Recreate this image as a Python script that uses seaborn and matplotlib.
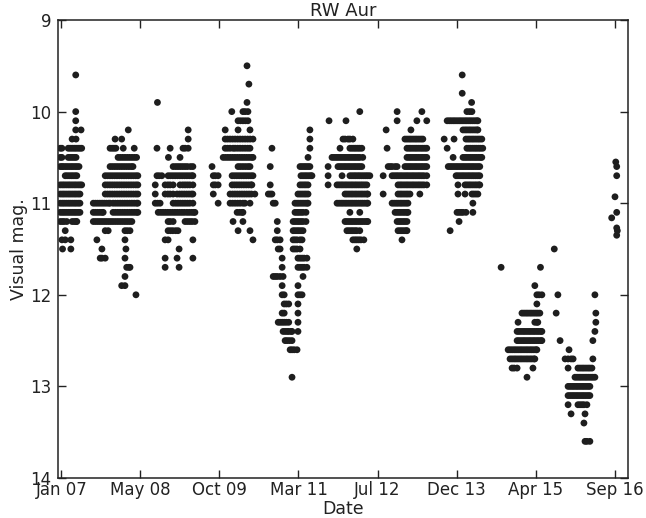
import numpy as np
import pandas as pd
import matplotlib
matplotlib.use("Agg")
import matplotlib.pyplot as plt
import matplotlib.dates as mdates
import seaborn as sns

# ---- Data: each season is a list of (visual magnitude, [days since 2007-01-01]) ----
season_2007 = [
    (9.6, [102]), (10.0, [102]), (10.1, [102]), (10.2, [102, 136]), (10.3, [79, 104]),
    (10.4, [3, 14, 54, 66, 79, 92, 104, 117, 129, 140]),
    (10.5, [3, 14, 54, 66, 79, 92, 104]),
    (10.6, [3, 14, 22, 35, 47, 60, 73, 85, 98, 110, 123]),
    (10.7, [35, 47, 60, 73, 85, 98, 109]),
    (10.8, [3, 16, 28, 41, 54, 66, 79, 92, 104, 117, 129, 140]),
    (10.9, [3, 16, 28, 41, 54, 66, 79, 92, 104, 117, 129]),
    (11.0, [3, 16, 28, 41, 54, 66, 79, 92, 104, 117, 129]),
    (11.1, [3, 16, 28, 41, 54, 66, 79, 92, 104, 117, 129]),
    (11.2, [3, 16, 28, 45, 79, 92, 104, 109]),
    (11.3, [35]), (11.4, [14, 35, 71]), (11.5, [18, 71]),
]
season_2008 = [
    (10.2, [437]), (10.3, [353, 395]),
    (10.4, [321, 334, 346, 358, 405, 475]),
    (10.5, [372, 386, 401, 416, 431, 446, 461, 476, 490]),
    (10.6, [321, 336, 351, 366, 381, 396, 411, 426, 441, 456, 467]),
    (10.7, [290, 305, 320, 335, 350, 365, 380, 395, 410, 425, 440, 455, 470, 485, 498]),
    (10.8, [290, 305, 320, 335, 350, 365, 380, 395, 410, 425, 440, 455, 470, 485, 498]),
    (10.9, [290, 305, 320, 335, 350, 365, 380, 395, 410, 425, 440, 455, 470, 485, 498]),
    (11.0, [214, 228, 242, 256, 270, 284, 298, 312, 321, 340, 355, 370, 385, 400, 415, 430, 445, 460, 475, 490, 498]),
    (11.1, [214, 228, 242, 256, 270, 277, 340, 355, 370, 385, 400, 415, 430, 445, 460, 475, 490, 498]),
    (11.2, [214, 228, 242, 256, 270, 284, 298, 312, 326, 340, 355, 370, 385, 400, 415, 430, 445, 460]),
    (11.3, [290, 309, 416, 431, 448]), (11.4, [237, 416]), (11.5, [269, 422]),
    (11.6, [258, 269, 290, 416]), (11.7, [427, 441, 448]), (11.8, [416]),
    (11.9, [395, 416]), (12.0, [486]),
]
season_2009 = [
    (9.9, [623]), (10.2, [819]), (10.3, [819]),
    (10.4, [620, 704, 786, 799, 819]), (10.5, [693, 767]),
    (10.6, [723, 739, 754, 769, 784, 799, 814, 834, 849]),
    (10.7, [620, 634, 651, 691, 706, 721, 736, 751, 766, 781, 796, 811, 826, 841, 849]),
    (10.8, [609, 672, 689, 704, 723, 767, 784, 799, 814, 829, 849]),
    (10.9, [609, 672, 689, 704, 723, 748, 764, 779, 794, 809, 824, 839, 849]),
    (11.0, [609, 624, 640, 723, 739, 754, 769, 784, 799, 814, 829, 849]),
    (11.1, [628, 644, 659, 674, 689, 704, 719, 734, 749, 764, 779, 794, 811, 826, 841, 854, 862]),
    (11.2, [691, 704, 723, 799, 814, 829, 844, 862]),
    (11.3, [691, 706, 721, 739, 754]), (11.4, [672, 691, 849]), (11.5, [761]),
    (11.6, [672, 748, 849]), (11.7, [672, 761]),
]
season_2010 = [
    (9.5, [1194]), (9.7, [1206]), (9.9, [1194]),
    (10.0, [1097, 1168, 1182, 1200]),
    (10.1, [1137, 1152, 1168, 1184, 1200]),
    (10.2, [1055, 1137, 1213]),
    (10.3, [1055, 1070, 1086, 1102, 1118, 1134, 1150, 1166, 1182, 1198, 1214, 1232]),
    (10.4, [1055, 1070, 1086, 1105, 1118, 1134, 1150, 1166, 1182, 1198, 1213]),
    (10.5, [1042, 1057, 1072, 1087, 1102, 1117, 1132, 1147, 1162, 1177, 1192, 1207, 1222, 1232]),
    (10.6, [971, 1137, 1152, 1168, 1184, 1200, 1213]),
    (10.7, [979, 992, 1010, 1099, 1114, 1129, 1144, 1159, 1174, 1189, 1204, 1219, 1232]),
    (10.8, [979, 992, 1010, 1099, 1114, 1129, 1144, 1159, 1174, 1189, 1204, 1219, 1225]),
    (10.9, [979, 1086, 1102, 1117, 1132, 1147, 1162, 1177, 1192, 1207, 1222, 1244]),
    (11.0, [1010, 1086, 1102, 1118, 1134, 1150, 1168, 1181, 1213]),
    (11.1, [1131, 1147, 1162, 1168]), (11.2, [1105, 1168]), (11.3, [1137, 1213]),
    (11.4, [1232]),
]
season_2011 = [
    (10.2, [1595]), (10.3, [1595]), (10.4, [1353, 1595]), (10.5, [1583]),
    (10.6, [1342, 1532, 1545, 1558, 1570, 1583, 1595]),
    (10.7, [1538, 1551, 1564, 1576, 1589, 1601, 1608]),
    (10.8, [1342, 1532, 1545, 1558, 1570, 1583]),
    (10.9, [1330, 1342, 1353, 1519, 1532, 1545, 1558, 1570, 1583]),
    (11.0, [1361, 1374, 1500, 1513, 1525, 1538, 1551, 1564, 1576, 1583]),
    (11.1, [1500, 1513, 1525, 1538, 1551, 1570]),
    (11.2, [1387, 1488, 1500, 1513, 1525, 1538, 1551, 1570]),
    (11.3, [1387, 1488, 1500, 1513, 1525, 1538, 1551]),
    (11.4, [1374, 1387, 1405, 1488, 1500, 1513, 1532, 1545]),
    (11.5, [1393, 1405, 1488, 1500, 1513, 1532]),
    (11.6, [1418, 1519, 1532, 1545, 1558, 1576]),
    (11.7, [1418, 1519, 1532, 1545, 1558, 1576]),
    (11.8, [1361, 1374, 1387, 1405, 1424, 1551]),
    (11.9, [1418, 1519]),
    (12.0, [1418, 1431, 1519, 1532, 1545]),
    (12.1, [1431, 1445, 1460, 1519]),
    (12.2, [1418, 1431, 1519]),
    (12.3, [1393, 1405, 1418, 1431, 1445, 1460, 1519]),
    (12.4, [1424, 1437, 1450, 1460, 1475, 1481, 1519]),
    (12.5, [1437, 1450, 1465, 1481]),
    (12.6, [1469, 1481, 1495, 1513]),
    (12.9, [1481]),
]
season_2012 = [
    (10.0, [1913]), (10.1, [1717, 1825]),
    (10.3, [1806, 1819, 1838, 1850, 1869]),
    (10.4, [1787, 1850, 1863, 1876, 1888, 1901, 1913, 1926]),
    (10.5, [1736, 1749, 1762, 1774, 1787, 1800, 1813, 1825, 1838, 1850, 1863, 1876, 1888, 1901, 1913, 1932]),
    (10.6, [1711, 1774, 1787, 1800, 1813, 1825, 1838, 1850, 1863, 1876, 1888, 1901, 1913, 1926]),
    (10.7, [1711, 1800, 1850, 1863, 1876, 1888, 1901, 1913, 1926, 1939, 1952, 1964, 1977]),
    (10.8, [1711, 1768, 1781, 1794, 1806, 1819, 1831, 1844, 1857, 1869, 1882, 1894, 1907, 1920, 1932, 1945, 1958]),
    (10.9, [1819, 1831, 1844, 1857, 1869, 1882, 1894, 1907, 1920, 1932, 1945, 1958, 1964]),
    (11.0, [1768, 1781, 1794, 1806, 1819, 1831, 1844, 1857, 1869, 1882, 1894, 1907, 1920, 1932, 1945, 1958, 1964]),
    (11.1, [1850, 1913]),
    (11.2, [1819, 1831, 1844, 1857, 1869, 1882, 1894, 1907, 1920, 1932, 1945, 1958, 1964]),
    (11.3, [1831, 1844, 1857, 1869, 1882, 1894, 1913]),
    (11.4, [1869, 1882, 1894, 1907, 1920, 1939]),
    (11.5, [1894]),
]
season_2013 = [
    (10.0, [2151, 2309]), (10.1, [2151, 2277, 2340]), (10.2, [2081, 2239]),
    (10.3, [2201, 2214, 2227, 2239, 2252, 2265, 2277, 2290, 2303, 2315]),
    (10.4, [2087, 2214, 2227, 2239, 2252, 2265, 2277, 2290, 2303, 2315, 2328, 2340]),
    (10.5, [2214, 2227, 2239, 2252, 2265, 2277, 2290, 2303, 2315, 2328, 2340]),
    (10.6, [2094, 2107, 2119, 2138, 2151, 2201, 2214, 2227, 2239, 2252, 2265, 2277, 2290, 2303, 2315, 2328, 2340]),
    (10.7, [2062, 2119, 2132, 2145, 2157, 2170, 2182, 2195, 2208, 2220, 2233, 2246, 2258, 2271, 2284, 2296, 2309, 2322, 2340]),
    (10.8, [2157, 2170, 2182, 2195, 2208, 2220, 2233, 2246, 2258, 2271, 2284, 2296, 2309, 2322, 2340]),
    (10.9, [2062, 2157, 2170, 2182, 2195, 2208, 2220, 2233, 2296]),
    (11.0, [2119, 2132, 2145, 2157, 2170, 2182, 2195, 2208, 2220]),
    (11.1, [2138, 2151, 2164, 2176, 2189, 2201, 2214, 2220]),
    (11.2, [2151, 2164, 2176, 2189, 2201, 2214]),
    (11.3, [2157, 2170, 2182, 2195, 2208, 2214]),
    (11.4, [2182]),
]
season_2014 = [
    (9.6, [2566]), (9.8, [2566]), (9.9, [2626]), (10.0, [2596, 2613, 2628]),
    (10.1, [2470, 2483, 2495, 2508, 2520, 2533, 2546, 2558, 2571, 2584, 2596, 2609, 2621, 2634, 2647, 2659, 2666]),
    (10.2, [2571, 2584, 2596, 2609, 2621, 2634, 2647, 2659, 2666]),
    (10.3, [2451, 2514, 2590, 2603, 2615, 2628, 2640, 2653, 2666, 2678, 2691]),
    (10.4, [2470, 2596, 2609, 2621, 2634, 2647, 2659, 2672, 2684, 2697]),
    (10.5, [2508, 2571, 2584, 2596, 2609, 2621, 2634, 2647, 2659, 2672, 2684, 2691]),
    (10.6, [2477, 2489, 2501, 2514, 2527, 2539, 2552, 2565, 2577, 2590, 2603, 2615, 2628, 2640, 2653, 2666, 2678]),
    (10.7, [2527, 2539, 2552, 2565, 2577, 2590, 2603, 2615, 2628, 2640, 2653, 2666, 2678]),
    (10.8, [2539, 2584, 2596, 2609, 2621, 2634, 2647, 2659, 2672, 2678]),
    (10.9, [2539, 2584, 2628, 2640, 2653, 2666]),
    (11.0, [2634]),
    (11.1, [2533, 2546, 2559, 2571, 2590, 2634]),
    (11.2, [2546]), (11.3, [2489]),
]
season_2015 = [
    (11.7, [2814, 3065]), (11.9, [3029]), (12.0, [3042, 3056, 3074]), (12.1, [3042]),
    (12.2, [2947, 2960, 2973, 2985, 2998, 3010, 3023, 3036, 3048, 3061]),
    (12.3, [2922, 3029, 3042, 3048]),
    (12.4, [2916, 2928, 2941, 2954, 2966, 2979, 2992, 3004, 3017, 3029, 3042, 3054, 3067, 3074]),
    (12.5, [2916, 2928, 2941, 2954, 2966, 2979, 2992, 3004, 3017, 3029, 3042, 3054, 3067, 3074]),
    (12.6, [2859, 2871, 2884, 2897, 2909, 2922, 2935, 2947, 2960, 2973, 2985, 2998, 3010, 3023, 3036, 3042]),
    (12.7, [2871, 2884, 2897, 2909, 2922, 2935, 2947, 2960, 2973, 2985, 2998, 3010, 3023, 3029]),
    (12.8, [2884, 2897, 2916, 3017]),
    (12.9, [2979]),
]
season_2016 = [
    (11.5, [3153]), (12.0, [3176, 3412]), (12.2, [3165, 3418]), (12.3, [3418]),
    (12.4, [3412]), (12.5, [3190, 3399]), (12.6, [3247]),
    (12.7, [3222, 3241, 3260, 3273, 3399]),
    (12.8, [3241, 3304, 3317, 3330, 3342, 3355, 3368, 3380, 3393]),
    (12.9, [3285, 3298, 3311, 3323, 3336, 3349, 3361, 3374, 3387, 3399, 3412]),
    (13.0, [3241, 3254, 3267, 3279, 3292, 3304, 3317, 3330, 3342, 3355, 3368, 3380]),
    (13.1, [3241, 3254, 3267, 3279, 3292, 3304, 3317, 3330, 3342, 3355, 3368, 3380]),
    (13.2, [3241, 3304, 3317, 3330, 3342, 3361]),
    (13.3, [3260, 3349]), (13.4, [3342]),
    (13.6, [3349, 3361, 3380]),
]
late_2016_days = [3545, 3551, 3551, 3540, 3551, 3519, 3551, 3555, 3551]
late_2016_mags = [10.55, 10.6, 10.7, 10.93, 11.1, 11.16, 11.27, 11.3, 11.35]

y_ticks = [9, 10, 11, 12, 13, 14]
epoch = "2007-01-01"
first_tick = "2007-01-11"
tick_step_days = 504

# ---- Build table ----
rows = []
for season in [season_2007, season_2008, season_2009, season_2010, season_2011,
               season_2012, season_2013, season_2014, season_2015, season_2016]:
    for mag, days in season:
        for d in days:
            rows.append((d, mag))
for d, m in zip(late_2016_days, late_2016_mags):
    rows.append((d, m))
df = pd.DataFrame(rows, columns=["day", "mag"])
df["date"] = pd.Timestamp(epoch) + pd.to_timedelta(df["day"], unit="D")

# ---- Plot ----
sns.set_style("ticks")
plt.rcParams["font.family"] = ["DejaVu Sans"]

fig = plt.figure(figsize=(6.46, 5.18), dpi=100)
ax = fig.add_axes([58 / 646, 1 - 478 / 518, 570 / 646, 458 / 518])

sns.scatterplot(data=df, x="date", y="mag", color="#1e1e1e", s=24,
                linewidth=0, edgecolor="none", ax=ax, legend=False)

ax.set_ylim(14, 9)
ax.set_yticks(y_ticks)
ax.set_yticklabels([str(v) for v in y_ticks])
ax.set_xlim(pd.Timestamp(epoch) + pd.Timedelta(days=-11),
            pd.Timestamp(epoch) + pd.Timedelta(days=3623))
ticks = pd.date_range(first_tick, periods=8, freq=f"{tick_step_days}D")
ax.set_xticks(ticks)
ax.xaxis.set_major_formatter(mdates.DateFormatter("%b %y"))
ax.minorticks_off()

ax.tick_params(direction="in", top=True, right=True, length=6, width=1,
               labelsize=12, colors="#222222")
ax.tick_params(axis="x", pad=2)
ax.tick_params(axis="y", pad=5)
for sp in ax.spines.values():
    sp.set_visible(True)
    sp.set_color("#222222")
    sp.set_linewidth(1.1)

ax.set_title("RW Aur", fontsize=13, color="#222222", pad=3)
ax.set_xlabel("Date", fontsize=12.5, color="#222222", labelpad=1)
ax.set_ylabel("Visual mag.", fontsize=12.5, color="#222222", labelpad=1)

fig.savefig("out.png", dpi=100)
